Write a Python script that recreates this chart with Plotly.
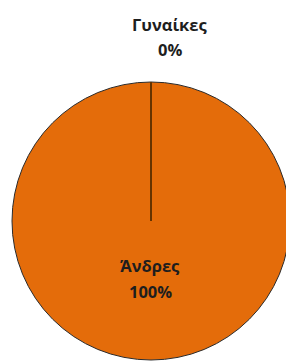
import math
import plotly.graph_objects as go

labels = ["Γυναίκες", "Άνδρες"]
values = [0, 100]
percent_text = ["0%", "100%"]
slice_colors = ["#E46C0A", "#E46C0A"]

W, H = 290, 361
ML, MR, MT, MB = 12, 0, 81, 0
PH = H - MT - MB
PW = W - ML - MR
R = min(PW, PH) / 2.0

def px_to_paper(x, y):
    return (x - ML) / PW, (H - MB - y) / PH

fig = go.Figure(go.Pie(
    labels=labels,
    values=values,
    sort=False,
    direction="clockwise",
    rotation=0,
    textinfo="none",
    hoverinfo="none",
    showlegend=False,
    marker=dict(colors=slice_colors,
                line=dict(color="#2b2b2b", width=1)),
))

# slice boundary lines (from data): boundary after each cumulative share, clockwise from 12 o'clock
total = float(sum(values))
cum = 0.0
for i, v in enumerate(values):
    if v == 0:
        a = 2 * math.pi * cum / total
        fig.add_shape(type="line", xref="paper", yref="paper",
                      x0=0.5, y0=0.5,
                      x1=0.5 + R * math.sin(a) / PW, y1=0.5 + R * math.cos(a) / PH,
                      line=dict(color="#653300", width=2))
    cum += v

font = dict(family="Open Sans, Noto Sans, sans-serif", size=16.5, color="#1e1e1e")
label_pos = [((170, 24), (170, 50)), ((150, 265), (150, 291))]
for i in range(len(labels)):
    (x1, y1), (x2, y2) = label_pos[i]
    ax, ay = px_to_paper(x1, y1)
    fig.add_annotation(x=ax, y=ay, xref="paper", yref="paper", text="<b>%s</b>" % labels[i],
                       showarrow=False, font=font, xanchor="center", yanchor="middle")
    bx, by = px_to_paper(x2, y2)
    fig.add_annotation(x=bx, y=by, xref="paper", yref="paper", text="<b>%s</b>" % percent_text[i],
                       showarrow=False, font=font, xanchor="center", yanchor="middle")

fig.update_layout(width=W, height=H, margin=dict(l=ML, r=MR, t=MT, b=MB),
                  paper_bgcolor="white", plot_bgcolor="white")
fig.write_html("out.html", config={"displayModeBar": False},
               post_script="document.body.style.margin='0';document.body.style.overflow='hidden';")
